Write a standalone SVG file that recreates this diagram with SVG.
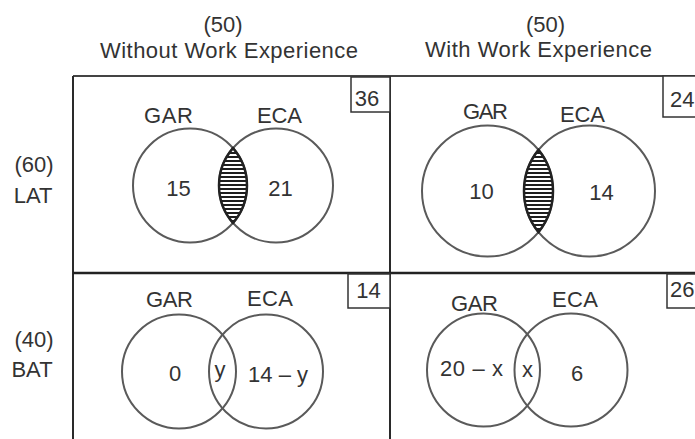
<svg xmlns="http://www.w3.org/2000/svg" width="695" height="439" viewBox="0 0 695 439">
<defs>
<style>
text{font-family:"Liberation Sans",Arial,sans-serif;font-size:22px;fill:#333;}
.c{fill:none;stroke:#5a5a5a;stroke-width:2;}
.g{fill:none;stroke:#2a2a2a;stroke-width:2;}
.box{fill:#fff;stroke:#333;stroke-width:1.5;}
.lens{fill:url(#hatch);stroke:#222;stroke-width:2.5;}
.m{text-anchor:middle;}
</style>
<pattern id="hatch" x="0" y="0" width="8" height="4" patternUnits="userSpaceOnUse">
<rect width="8" height="4" fill="#fff"/>
<rect width="8" height="2" fill="#1e1e1e"/>
</pattern>
</defs>
<rect width="695" height="439" fill="#fff"/>
<g id="grid">
<line class="g" x1="73" y1="76" x2="720" y2="76" style="stroke:#444"/>
<line class="g" x1="73" y1="76" x2="73" y2="439"/>
<line class="g" x1="390" y1="76" x2="390" y2="439"/>
<line class="g" x1="73" y1="273" x2="720" y2="273" style="stroke-width:2.6;stroke:#222"/>
</g>
<g id="header-without">
<text class="m" x="223" y="32">(50)</text>
<text x="100" y="58" textLength="258" lengthAdjust="spacing">Without Work Experience</text>
</g>
<g id="header-with">
<text class="m" x="545.5" y="32">(50)</text>
<text x="425" y="57" textLength="227" lengthAdjust="spacing">With Work Experience</text>
</g>
<g id="row-lat">
<text class="m" x="34" y="172">(60)</text>
<text class="m" x="33" y="203">LAT</text>
</g>
<g id="row-bat">
<text class="m" x="34" y="347">(40)</text>
<text class="m" x="32" y="377">BAT</text>
</g>
<g id="cell-lat-without">
<rect class="box" x="351" y="77" width="39" height="35"/>
<text class="m" x="367" y="106">36</text>
<circle class="c" cx="190" cy="185.5" r="57"/>
<circle class="c" cx="276" cy="185.5" r="57"/>
<path class="lens" d="M233,148.1 A57,57 0 0 1 233,222.9 A57,57 0 0 1 233,148.1 Z"/>
<text x="144" y="123" textLength="49" lengthAdjust="spacing">GAR</text>
<text x="257" y="123" textLength="45" lengthAdjust="spacing">ECA</text>
<text class="m" x="178.5" y="196">15</text>
<text class="m" x="280.5" y="196">21</text>
</g>
<g id="cell-lat-with">
<rect class="box" x="663" y="76" width="40" height="41"/>
<text x="670" y="107">24</text>
<circle class="c" cx="487.5" cy="191" r="65.5"/>
<circle class="c" cx="589.5" cy="191" r="65.5"/>
<path class="lens" d="M538.5,149.9 A65.5,65.5 0 0 1 538.5,232.1 A65.5,65.5 0 0 1 538.5,149.9 Z"/>
<text x="463" y="119" textLength="45" lengthAdjust="spacing">GAR</text>
<text x="560" y="122" textLength="45" lengthAdjust="spacing">ECA</text>
<text class="m" x="481.5" y="199">10</text>
<text class="m" x="601.5" y="200">14</text>
</g>
<g id="cell-bat-without">
<rect class="box" x="348" y="274" width="42" height="34"/>
<text class="m" x="368.5" y="298">14</text>
<circle class="c" cx="179" cy="371.5" r="57"/>
<circle class="c" cx="266" cy="371.5" r="57"/>
<text x="146" y="307" textLength="47" lengthAdjust="spacing">GAR</text>
<text x="247" y="306" textLength="46" lengthAdjust="spacing">ECA</text>
<text class="m" x="175" y="381">0</text>
<text class="m" x="220" y="377">y</text>
<text x="248" y="382" textLength="60" lengthAdjust="spacing">14 – y</text>
</g>
<g id="cell-bat-with">
<rect class="box" x="667" y="274" width="40" height="34"/>
<text x="670" y="297">26</text>
<circle class="c" cx="483.5" cy="370" r="56.5"/>
<circle class="c" cx="571" cy="370" r="56.5"/>
<text x="451" y="311" textLength="47" lengthAdjust="spacing">GAR</text>
<text x="552" y="307" textLength="46" lengthAdjust="spacing">ECA</text>
<text x="440" y="376" textLength="63" lengthAdjust="spacing">20 – x</text>
<text class="m" x="527.5" y="377">x</text>
<text class="m" x="577" y="381">6</text>
</g>
</svg>
